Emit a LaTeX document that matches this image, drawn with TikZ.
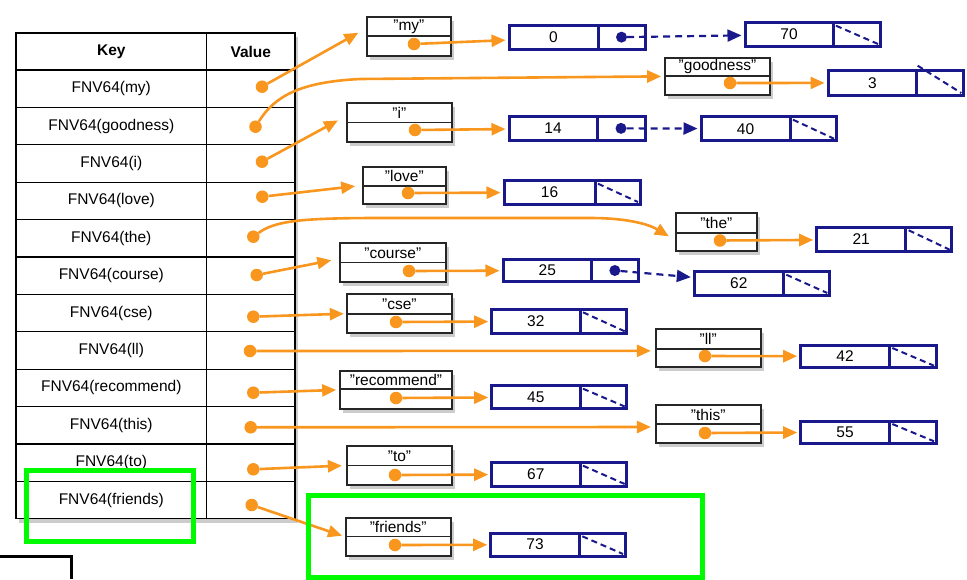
\documentclass[tikz,border=0pt]{standalone}
\usepackage{fontspec}
\setmainfont{Liberation Sans}
\usetikzlibrary{arrows.meta,shadows,fit,calc}
\definecolor{org}{RGB}{248,150,30}
\definecolor{nav}{RGB}{25,25,140}
\definecolor{grn}{RGB}{0,250,0}
\newcommand{\qq}{\symbol{34}}
\tikzset{
  tbl/.style={draw=black, line width=1.3pt, fill=white, inner sep=0pt,
    drop shadow={shadow xshift=3pt, shadow yshift=-4pt, opacity=0.4}},
  tline/.style={draw=black, line width=1.3pt},
  kshape/.style={draw=black!85, line width=1.7pt, fill=white, inner sep=0pt,
    drop shadow={shadow xshift=3pt, shadow yshift=-4pt, opacity=0.4}},
  kline/.style={draw=black!85, line width=1.4pt},
  vshape/.style={draw=nav, line width=3pt, inner sep=0pt, fill=white},
  vline/.style={draw=nav, line width=3pt},
  odot/.style={circle, fill=org, inner sep=0pt, minimum size=12.5pt},
  ndot/.style={circle, fill=nav, inner sep=0pt, minimum size=11pt},
  oarr/.style={draw=org, line width=2.6pt, -{Triangle[length=14pt,width=12pt]}},
  narr/.style={draw=nav, line width=2.2pt, dash pattern=on 7pt off 5pt, shorten >=2pt, -{Triangle[length=14pt,width=12pt]}},
  nslash/.style={draw=nav, line width=2pt, dash pattern=on 6pt off 4pt},
  keytxt/.style={font=\fontsize{15.5}{18}\selectfont, inner sep=0pt},
  hdr/.style={font=\bfseries\fontsize{15.5}{18}\selectfont, inner sep=0pt},
  lbl/.style={font=\fontsize{15.5}{18}\selectfont, inner sep=0pt},
  numtxt/.style={font=\fontsize{15.5}{18}\selectfont, inner sep=0pt},
  hl/.style={draw=grn, line width=5pt},
}
% name x1 y1 ydiv x2 y2 label
\newcommand{\keybox}[7]{%
  \node[kshape, fit={(#2,#3) (#5,#6)}] (#1) {};
  \draw[kline] (#2,#4) -- (#5,#4);
  \node[lbl] (#1-l) at ({(#2+#5)/2},{(#3+#4)/2}) {#7};
}
% name x1 y1 xdiv x2 y2 number
\newcommand{\valbox}[7]{%
  \node[vshape, fit={(#2,#3) (#5,#6)}] (#1) {};
  \draw[vline] (#4,#3) -- (#4,#6);
  \node[numtxt] (#1-n) at ({(#2+#4)/2},{(#3+#6)/2}) {#7};
  \coordinate (#1-a) at (#4,#3);
  \coordinate (#1-b) at (#5,#6);
  \coordinate (#1-c) at ({(#4+#5)/2},{(#3+#6)/2});
}
\newcommand{\nullslash}[1]{%
  \draw[nslash] ([xshift=3pt,yshift=-3pt]#1-a) -- ([xshift=-2pt,yshift=2pt]#1-b);
}
\begin{document}
\begin{tikzpicture}[x=1pt,y=-1pt]
\useasboundingbox (0,0) rectangle (967,579);

% ---------------- table ----------------
\node[tbl, fit={(16,33) (295,518.8)}] (table) {};
\draw[tline] (206.7,33) -- (206.7,518.8);
\foreach \yy in {70,107.4,144.8,182.2,219.6,257.0,294.4,331.8,369.2,406.6,444.0,481.4}
  \draw[tline] (16,\yy) -- (295,\yy);

\node[hdr] (h-key) at (111.3,51.5) {Key};
\node[hdr] (h-val) at (250.8,51.5) {Value};
\node[keytxt] (t-my) at (111.3,88.7) {FNV64(my)};
\node[keytxt] (t-good) at (111.3,126.1) {FNV64(goodness)};
\node[keytxt] (t-i) at (111.3,163.5) {FNV64(i)};
\node[keytxt] (t-love) at (111.3,200.9) {FNV64(love)};
\node[keytxt] (t-the) at (111.3,238.3) {FNV64(the)};
\node[keytxt] (t-course) at (111.3,275.7) {FNV64(course)};
\node[keytxt] (t-cse) at (111.3,313.1) {FNV64(cse)};
\node[keytxt] (t-ll) at (111.3,350.5) {FNV64(ll)};
\node[keytxt] (t-rec) at (111.3,387.9) {FNV64(recommend)};
\node[keytxt] (t-this) at (111.3,425.3) {FNV64(this)};
\node[keytxt] (t-to) at (111.3,462.7) {FNV64(to)};
\node[keytxt] (t-fr) at (111.3,500.1) {FNV64(friends)};

\node[odot] (v-my) at (262,86.7) {};
\node[odot] (v-good) at (255.5,126.7) {};
\node[odot] (v-i) at (262,161.7) {};
\node[odot] (v-love) at (262.3,196.7) {};
\node[odot] (v-the) at (253.3,236.7) {};
\node[odot] (v-course) at (256.7,275) {};
\node[odot] (v-cse) at (253.3,316.7) {};
\node[odot] (v-ll) at (250,351) {};
\node[odot] (v-rec) at (253.3,392.7) {};
\node[odot] (v-this) at (250.7,427.3) {};
\node[odot] (v-to) at (253.3,469.3) {};
\node[odot] (v-fr) at (251.7,505) {};

% ---------------- key boxes ----------------
\keybox{k-my}{367}{17}{36}{450.7}{56}{\qq my\qq}
\keybox{k-good}{665}{57.7}{76}{770}{95}{\qq goodness\qq}
\keybox{k-i}{346.7}{102.7}{122.7}{452}{141.7}{\qq i\qq}
\keybox{k-love}{363}{166.7}{186}{445.7}{204}{\qq love\qq}
\keybox{k-the}{675.7}{213}{233}{757}{251}{\qq the\qq}
\keybox{k-course}{340}{243.3}{262.3}{445.7}{282.3}{\qq course\qq}
\keybox{k-cse}{346.7}{294}{314}{452}{333.3}{\qq cse\qq}
\keybox{k-ll}{655.7}{329}{349}{760.7}{366.7}{\qq ll\qq}
\keybox{k-rec}{340}{370.7}{389}{452}{409}{\qq recommend\qq}
\keybox{k-this}{655.7}{405}{424}{760.7}{443}{\qq this\qq}
\keybox{k-to}{346.7}{446}{465.7}{452.3}{485}{\qq to\qq}
\keybox{k-fr}{345.7}{517.7}{536.7}{450.7}{555.7}{\qq friends\qq}

\node[odot] (d-my) at (414,44) {};
\node[odot] (d-good) at (730,83) {};
\node[odot] (d-i) at (415,130) {};
\node[odot] (d-love) at (408,193) {};
\node[odot] (d-the) at (720,240.5) {};
\node[odot] (d-course) at (409,271) {};
\node[odot] (d-cse) at (396,322) {};
\node[odot] (d-ll) at (705,356) {};
\node[odot] (d-rec) at (396,398) {};
\node[odot] (d-this) at (705,433) {};
\node[odot] (d-to) at (395,475) {};
\node[odot] (d-fr) at (395,545) {};

% ---------------- value boxes ----------------
\valbox{b-0}{509}{25}{598}{645}{49.3}{0}
\valbox{b-70}{745}{22.7}{833}{880}{46}{70}
\valbox{b-3}{828}{70.7}{916.7}{963.3}{95}{3}
\valbox{b-14}{509}{116.7}{597}{645}{140}{14}
\valbox{b-40}{701}{116.7}{790}{836}{140.7}{40}
\valbox{b-16}{504}{180.7}{595}{640}{204}{16}
\valbox{b-21}{816.7}{227.3}{905.7}{951.7}{251.7}{21}
\valbox{b-25}{503}{259.3}{591.7}{638}{281.7}{25}
\valbox{b-62}{694.3}{271.7}{783.3}{829.3}{295}{62}
\valbox{b-32}{491.7}{309.3}{580}{626.7}{333.3}{32}
\valbox{b-42}{800.7}{345}{889.3}{936}{367.7}{42}
\valbox{b-45}{491.7}{385.7}{580}{626.7}{408.5}{45}
\valbox{b-55}{800.7}{421}{889.3}{936}{443.3}{55}
\valbox{b-67}{491.7}{462.7}{580}{626.7}{486}{67}
\valbox{b-73}{490.7}{533.3}{579.3}{625}{556}{73}

\nullslash{b-70}
\draw[nslash] ([xshift=1pt,yshift=5pt]b-3-a) -- ([xshift=-2pt,yshift=2pt]b-3-b);
\nullslash{b-40}
\nullslash{b-16}
\nullslash{b-21}
\nullslash{b-62}
\nullslash{b-32}
\nullslash{b-42}
\nullslash{b-45}
\nullslash{b-55}
\nullslash{b-67}
\nullslash{b-73}

\node[ndot] (b-0-p) at (b-0-c) {};
\node[ndot] (b-14-p) at (b-14-c) {};
\node[ndot] (b-25-p) at (b-25-c) {};

\draw[narr] (b-0-p) -- (b-70);
\draw[narr] (b-14-p) -- (b-40);
\draw[narr] (b-25-p) -- (b-62);

% ---------------- table -> key arrows ----------------
\draw[oarr, shorten >=9pt] (v-my) -- ($(k-my.north west)!0.3!(k-my.south west)$);
\draw[oarr, shorten >=3pt] (v-good) .. controls (275,96) and (300,82) .. (360,79) -- (k-good.west);
\draw[oarr, shorten >=9pt] (v-i) -- ($(k-i.north west)!0.35!(k-i.south west)$);
\draw[oarr, shorten >=7pt] (v-love) -- (k-love.west);
\draw[oarr, shorten >=7pt] (v-the) .. controls (275,221) and (300,218) .. (380,218) -- (590,218)
   .. controls (630,218) and (650,225) .. ($(k-the.south west)!0.3!(k-the.north west)$);
\draw[oarr, shorten >=8pt] (v-course) -- ($(k-course.north west)!0.4!(k-course.south west)$);
\draw[oarr, shorten >=2pt] (v-cse) -- (k-cse.west);
\draw[oarr, shorten >=4pt] (v-ll) -- ($(k-ll.west)+(0,3)$);
\draw[oarr, shorten >=3pt] (v-rec) -- (k-rec.west);
\draw[oarr, shorten >=4pt] (v-this) -- ($(k-this.west)+(0,3)$);
\draw[oarr, shorten >=4pt] (v-to) -- (k-to.west);
\draw[oarr, shorten >=3pt] (v-fr) -- (k-fr.west);

% ---------------- key -> value arrows ----------------
\draw[oarr, shorten >=2pt] (d-my) -- (b-0);
\draw[oarr, shorten >=2pt] (d-good) -- (b-3);
\draw[oarr, shorten >=2pt] (d-i) -- (b-14);
\draw[oarr, shorten >=2pt] (d-love) -- (b-16);
\draw[oarr, shorten >=2pt] (d-the) -- (b-21);
\draw[oarr, shorten >=2pt] (d-course) -- (b-25);
\draw[oarr, shorten >=2pt] (d-cse) -- (b-32);
\draw[oarr, shorten >=2pt] (d-ll) -- (b-42);
\draw[oarr, shorten >=2pt] (d-rec) -- (b-45);
\draw[oarr, shorten >=2pt] (d-this) -- (b-55);
\draw[oarr, shorten >=2pt] (d-to) -- (b-67);
\draw[oarr, shorten >=2pt] (d-fr) -- (b-73);

% ---------------- highlights ----------------
\draw[hl] (26,470.5) rectangle (193,541.5);
\draw[hl] (308,495.5) rectangle (702.5,577);
\draw[black, line width=3pt] (0,556.5) -- (71,556.5) -- (71,579);
\end{tikzpicture}
\end{document}
